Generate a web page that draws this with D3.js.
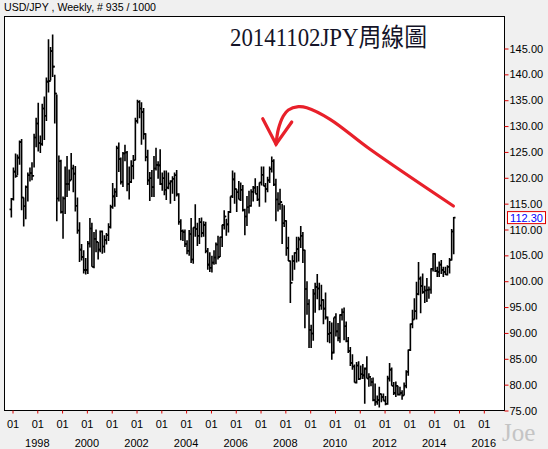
<!DOCTYPE html>
<html><head><meta charset="utf-8">
<script src="https://cdn.jsdelivr.net/npm/d3@7/dist/d3.min.js"></script>
<style>
body{margin:0;background:#f0f0f0;}
svg{display:block;}
</style>
</head><body>
<svg id="chart" width="548" height="449"></svg>
<script>
// ---------- DATA (monthly USD/JPY) ----------
const firstMonth = [1996, 11]; // December 1996
const firstOpen = 113.9;
const highs = [
 116.1,
 122.0,124.7,124.5,127.2,127.5,116.2,118.5,121.0,122.0,123.0,128.5,131.6,
 134.5,128.2,134.3,135.7,139.4,146.8,145.3,147.7,139.9,136.1,124.3,123.5,
 116.4,122.2,124.2,121.6,124.8,122.5,122.3,116.2,111.4,107.2,106.0,104.5,
 107.8,112.2,111.3,109.5,110.0,107.6,109.8,109.8,108.9,109.3,111.2,114.8,
 119.0,118.0,126.2,126.8,123.9,125.0,126.4,125.2,122.2,123.4,124.4,131.6,
 135.1,135.0,134.6,133.5,128.6,125.4,121.1,121.5,124.2,125.8,123.2,125.5,
 121.0,121.4,121.4,121.0,119.5,120.3,121.0,121.5,117.0,112.0,110.0,110.0,
 107.9,109.9,112.2,110.4,114.9,111.3,112.2,112.3,111.6,111.5,106.4,105.6,
 104.9,106.0,107.5,108.8,108.6,110.9,113.7,112.1,113.6,116.4,121.4,121.0,
 117.8,119.4,119.1,118.6,114.0,116.5,117.5,117.8,118.4,119.9,118.4,119.1,
 122.2,122.2,119.0,120.2,122.2,124.1,123.6,119.8,117.2,117.9,115.0,114.7,
 111.8,108.6,104.0,105.0,105.6,108.6,108.6,110.7,109.5,106.1,100.0,96.5,
 91.6,98.5,99.7,101.4,99.7,99.3,96.5,97.8,93.2,92.3,92.0,93.0,
 93.8,91.9,93.6,94.7,94.9,92.2,89.2,87.3,85.9,83.9,84.4,84.5,
 83.7,84.0,83.3,85.5,82.2,81.3,81.4,80.2,77.9,79.6,78.3,78.3,
 77.8,81.7,84.2,83.3,80.5,80.6,79.8,79.6,78.9,80.4,82.8,86.8,
 91.8,94.5,96.7,99.9,103.7,100.9,101.5,99.1,100.6,99.0,102.5,105.4,
 105.4,102.8,103.8,104.1,102.8,102.8,103.1,104.5,110.1,112.4
];
const lows = [
 112.3,
 115.6,120.0,120.5,122.5,113.7,110.6,112.0,115.4,119.3,119.5,122.0,125.9,
 125.1,124.8,126.2,127.3,131.0,136.5,138.8,139.5,130.5,111.6,115.4,113.1,
 108.2,113.0,116.3,117.5,119.5,117.2,113.5,109.2,103.7,104.0,101.5,101.3,
 101.4,106.5,102.8,102.5,105.6,104.2,105.6,105.3,105.5,107.1,107.8,110.2,
 114.0,114.4,116.3,121.1,118.7,118.2,123.2,117.4,115.8,119.0,119.7,123.4,
 130.5,131.5,126.4,127.4,123.2,118.6,115.5,116.3,116.3,121.4,119.8,118.6,
 117.5,116.6,115.7,117.8,115.0,116.9,115.5,116.4,110.9,107.9,107.8,106.6,
 105.2,104.9,103.5,103.4,108.6,106.8,107.2,108.5,108.6,105.4,102.2,101.8,
 101.7,103.2,103.3,104.2,104.7,106.6,110.0,108.8,109.4,113.2,116.1,115.0,
 113.4,115.8,115.5,113.5,108.9,110.7,113.1,114.4,115.4,117.0,115.5,114.4,
 118.5,118.4,115.2,117.2,119.0,121.0,118.4,111.6,113.5,113.8,107.2,110.5,
 104.9,103.9,95.8,100.1,102.2,103.6,103.8,106.4,103.5,90.9,93.5,87.1,
 87.1,88.5,93.9,96.5,94.4,94.5,91.7,92.6,88.2,88.0,84.8,86.0,
 89.3,88.4,88.1,92.4,88.6,88.2,86.1,83.6,82.9,80.4,80.2,80.9,
 81.1,81.1,76.3,81.2,79.6,79.7,76.8,75.9,76.1,75.6,76.6,76.9,
 76.0,76.1,80.6,79.8,78.0,77.6,77.9,77.9,77.1,77.9,79.3,81.7,
 86.5,90.9,92.6,92.6,97.3,93.8,97.6,95.8,96.0,96.6,97.6,101.9,
 101.8,100.8,100.8,101.4,100.8,101.2,101.1,101.5,104.0,105.2
];
const closes = [
 115.9,
 121.2,120.3,123.9,126.9,116.2,114.5,118.2,120.5,120.9,120.4,127.8,130.5,
 126.7,126.5,133.4,132.0,138.6,138.7,144.5,141.5,136.3,116.0,123.2,113.4,
 116.0,118.8,118.8,119.5,121.8,120.8,114.6,109.8,106.1,104.7,102.2,102.2,
 107.3,110.2,102.8,108.2,107.6,106.1,109.6,106.7,108.0,108.9,110.5,114.4,
 116.4,117.3,125.7,123.6,119.2,124.7,124.9,118.8,119.2,122.3,123.4,131.0,
 134.7,133.4,132.7,128.5,124.0,119.5,119.9,118.2,121.8,122.5,122.4,118.8,
 119.9,117.7,118.1,118.9,119.3,119.8,120.5,116.8,111.5,109.7,109.5,107.2,
 105.9,109.1,104.2,110.4,110.1,108.8,111.4,109.3,110.9,105.8,103.2,102.6,
 103.6,104.6,107.1,104.7,108.5,110.9,112.5,111.0,113.4,116.4,119.7,117.8,
 117.2,115.8,117.7,113.8,112.5,114.3,114.6,117.3,118.1,116.9,115.8,119.1,
 120.6,118.4,117.8,119.5,121.7,123.2,118.7,115.8,114.9,115.3,111.2,111.7,
 106.4,103.9,99.7,103.9,105.5,106.2,108.1,108.8,106.0,98.5,95.6,90.6,
 89.9,97.6,98.9,98.6,95.3,96.4,94.7,93.0,89.8,90.0,86.2,93.0,
 90.3,89.0,93.5,94.0,91.3,88.4,86.5,84.2,83.5,80.4,83.7,81.1,
 82.0,81.8,83.1,81.2,81.5,80.5,77.0,76.7,77.0,78.2,77.6,76.9,
 76.3,81.2,82.9,79.8,78.4,79.8,78.1,78.4,77.9,79.8,82.5,86.7,
 91.7,92.6,94.2,97.5,100.5,99.1,97.9,98.2,98.3,98.4,102.4,105.3,
 102.0,101.8,103.2,102.2,101.8,101.3,102.8,104.1,109.6,112.3
];
const yTickValues = [75,80,85,90,95,100,105,110,115,120,125,130,135,140,145];
const tickYears = [1997,1998,1999,2000,2001,2002,2003,2004,2005,2006,2007,2008,2009,2010,2011,2012,2013,2014,2015,2016];
const labeledYears = [1998,2000,2002,2004,2006,2008,2010,2012,2014,2016];
const lastPrice = 112.30;
const headerText = "USD/JPY , Weekly, # 935 / 1000";
const titleText = "20141102JPY周線圖";
const watermark = "Joe";
// annotation arrow in [decimal year, price]
const arrowCurve = [[2014.774,114.54],[2011.415,125.51],[2009.802,131.31],[2008.863,133.55],[2008.524,133.75],[2008.121,133.11],[2007.919,131.95],[2007.718,129.38],[2007.625,126.48]];
const arrowHead = [[2007.089,131.43],[2007.625,126.48],[2008.258,130.79]];

// ---------- CHART ----------
const svg = d3.select("#chart");
const plot = {left:4.5, top:16.5, right:504.5, bottom:410.5};

const x = d3.scaleTime().domain([new Date(1997,0,1), new Date(2016,0,1)]).range([12.5, 483.8]);
const y = d3.scaleLinear().domain([75,145]).range([410.5,48.5]);

function fromYear(t){
  const yr = Math.floor(t);
  const a = new Date(yr,0,1).getTime(), b = new Date(yr+1,0,1).getTime();
  return new Date(a + (t-yr)*(b-a));
}

const bars = highs.map((h,i)=>{
  const d = new Date(firstMonth[0], firstMonth[1]+i, 15);
  return {date:d, high:h, low:lows[i], close:closes[i], open: i===0 ? firstOpen : closes[i-1]};
});

// background + plot frame
svg.append("rect").attr("width",548).attr("height",449).attr("fill","#f0f0f0");
svg.append("rect").attr("x",plot.left).attr("y",plot.top)
  .attr("width",plot.right-plot.left).attr("height",plot.bottom-plot.top)
  .attr("fill","#fff").attr("stroke","#000").attr("stroke-width",1);

// header
svg.append("text").attr("x",4).attr("y",10.5).text(headerText)
  .attr("font-family","Liberation Sans, Arial, sans-serif").attr("font-size",10.6).attr("fill","#000");

// title
svg.append("text").attr("x",230).attr("y",46).text(titleText)
  .attr("font-family","Liberation Serif, 'Noto Sans CJK TC', serif").attr("font-size",25)
  .attr("textLength",197).attr("lengthAdjust","spacingAndGlyphs").attr("fill","#141428");

// OHLC bars
svg.append("g").selectAll("path").data(bars).join("path")
  .attr("d", d=>{
    const cx = x(d.date);
    return `M${cx},${y(d.high)}V${y(d.low)}M${cx-1.8},${y(d.open)}H${cx}M${cx},${y(d.close)}H${cx+1.8}`;
  })
  .attr("fill","none").attr("stroke","#000").attr("stroke-width",1.6);

// right axis
const yAxis = svg.append("g").attr("transform",`translate(${plot.right},0)`)
  .call(d3.axisRight(y).tickValues(yTickValues).tickFormat(d3.format(".2f")).tickSize(4).tickPadding(1));
yAxis.select(".domain").remove();
yAxis.selectAll("line").attr("stroke","#e00000");
yAxis.selectAll("text").attr("font-family","Liberation Sans, Arial, sans-serif").attr("font-size",11).attr("fill","#000");

// bottom axis
const xAxis = svg.append("g").attr("transform",`translate(0,${plot.bottom})`)
  .call(d3.axisBottom(x).tickValues(tickYears.map(t=>new Date(t,0,1))).tickFormat(()=> "01").tickSize(3).tickPadding(7));
xAxis.select(".domain").remove();
xAxis.selectAll("line").attr("stroke","#e00000");
xAxis.selectAll("text").attr("font-family","Liberation Sans, Arial, sans-serif").attr("font-size",11).attr("fill","#000");

svg.append("g").selectAll("text").data(labeledYears).join("text")
  .attr("x",d=>x(new Date(d,0,1))).attr("y",446.5).attr("text-anchor","middle")
  .attr("font-family","Liberation Sans, Arial, sans-serif").attr("font-size",11).attr("fill","#000")
  .text(d=>d);

// last price box
const ly = y(lastPrice);
svg.append("rect").attr("x",507.5).attr("y",ly-6).attr("width",38).attr("height",12)
  .attr("fill","#fff").attr("stroke","#e00000").attr("stroke-width",1);
svg.append("text").attr("x",526.5).attr("y",ly+4).attr("text-anchor","middle")
  .attr("font-family","Liberation Sans, Arial, sans-serif").attr("font-size",11).attr("fill","#0000ff")
  .text(d3.format(".2f")(lastPrice));

// watermark
svg.append("text").attr("x",502).attr("y",441).text(watermark)
  .attr("font-family","Liberation Serif, serif").attr("font-size",25).attr("fill","#c4c4c4");

// arrow annotation
const lineGen = d3.line().x(d=>x(fromYear(d[0]))).y(d=>y(d[1]));
svg.append("path").attr("d", lineGen.curve(d3.curveCatmullRom.alpha(0.5))(arrowCurve))
  .attr("fill","none").attr("stroke","#e8202a").attr("stroke-width",3.2).attr("stroke-linecap","round");
svg.append("path").attr("d", d3.line().x(d=>x(fromYear(d[0]))).y(d=>y(d[1]))(arrowHead))
  .attr("fill","none").attr("stroke","#e8202a").attr("stroke-width",3.2).attr("stroke-linecap","round").attr("stroke-linejoin","miter");
</script>
</body></html>
